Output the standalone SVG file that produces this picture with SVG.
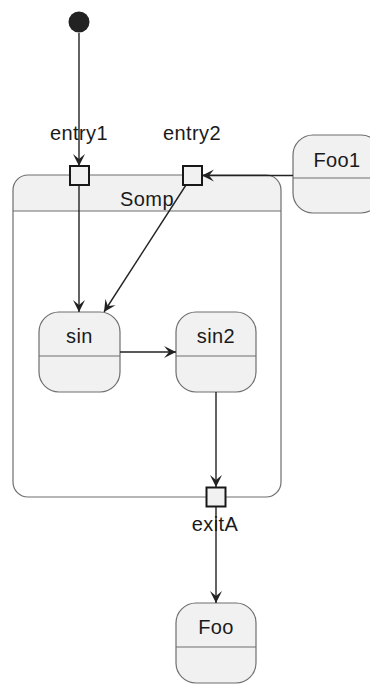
<svg xmlns="http://www.w3.org/2000/svg" width="370" height="684" viewBox="0 0 370 684">
<defs>
<style>
.st{fill:#F1F1F1;stroke:#6e6e6e;stroke-width:1.2}
.sep{stroke:#6e6e6e;stroke-width:1.2;fill:none}
.port{fill:#F1F1F1;stroke:#181818;stroke-width:2}
.lbl{font-family:"Liberation Sans",Arial,sans-serif;font-size:20px;fill:#1a1a1a;text-anchor:middle;letter-spacing:0.4px}
.edge{stroke:#222;stroke-width:1.4;fill:none;marker-end:url(#ah)}
</style>
<marker id="ah" markerUnits="userSpaceOnUse" viewBox="-13 -7 14 14" refX="0" refY="0" markerWidth="14" markerHeight="14" orient="auto">
<path d="M0,0 L-12,-6 L-7,0 L-12,6 Z" fill="#222"/>
</marker>
</defs>
<rect width="370" height="684" fill="#fff"/>
<g id="Somp">
<path d="M13,211 L13,190 A15,15 0 0 1 28,175 L266,175 A15,15 0 0 1 281,190 L281,211 Z" fill="#F1F1F1"/>
<rect x="13" y="175" width="268" height="322" rx="15" fill="none" stroke="#6e6e6e" stroke-width="1.2"/>
<line class="sep" x1="13" y1="211" x2="281" y2="211"/>
<text class="lbl" x="147" y="206">Somp</text>
</g>
<g id="initial"><circle cx="79" cy="22" r="10.5" fill="#222"/></g>
<g id="sin">
<rect class="st" x="39" y="312" width="81" height="80" rx="20"/>
<line class="sep" x1="39" y1="356" x2="120" y2="356"/>
<text class="lbl" x="79.5" y="343">sin</text>
</g>
<g id="sin2">
<rect class="st" x="176" y="312" width="80" height="80" rx="20"/>
<line class="sep" x1="176" y1="356" x2="256" y2="356"/>
<text class="lbl" x="216" y="343">sin2</text>
</g>
<g id="Foo">
<rect class="st" x="176" y="603" width="80" height="80" rx="20"/>
<line class="sep" x1="176" y1="647" x2="256" y2="647"/>
<text class="lbl" x="216" y="634">Foo</text>
</g>
<g id="Foo1">
<rect class="st" x="293" y="135" width="88" height="78" rx="20"/>
<line class="sep" x1="293" y1="178" x2="381" y2="178"/>
<text class="lbl" x="337" y="167">Foo1</text>
</g>
<g id="connectors">
<line class="edge" x1="79" y1="33" x2="79" y2="166"/>
<line class="edge" x1="79" y1="185" x2="79" y2="312"/>
<line class="edge" x1="186" y1="185" x2="104" y2="312"/>
<line class="edge" x1="293" y1="175.5" x2="202" y2="175.5"/>
<line class="edge" x1="120" y1="352" x2="176" y2="352"/>
<line class="edge" x1="216" y1="392" x2="216" y2="487"/>
<line class="edge" x1="216" y1="507" x2="216" y2="603"/>
</g>
<g id="entry1">
<rect class="port" x="70" y="166" width="19" height="19"/>
<text class="lbl" x="79" y="140">entry1</text>
</g>
<g id="entry2">
<rect class="port" x="183" y="166" width="19" height="19"/>
<text class="lbl" x="192" y="140">entry2</text>
</g>
<g id="exitA">
<rect class="port" x="206.5" y="487.5" width="19" height="19"/>
<text class="lbl" x="215" y="531">exitA</text>
</g>
</svg>
